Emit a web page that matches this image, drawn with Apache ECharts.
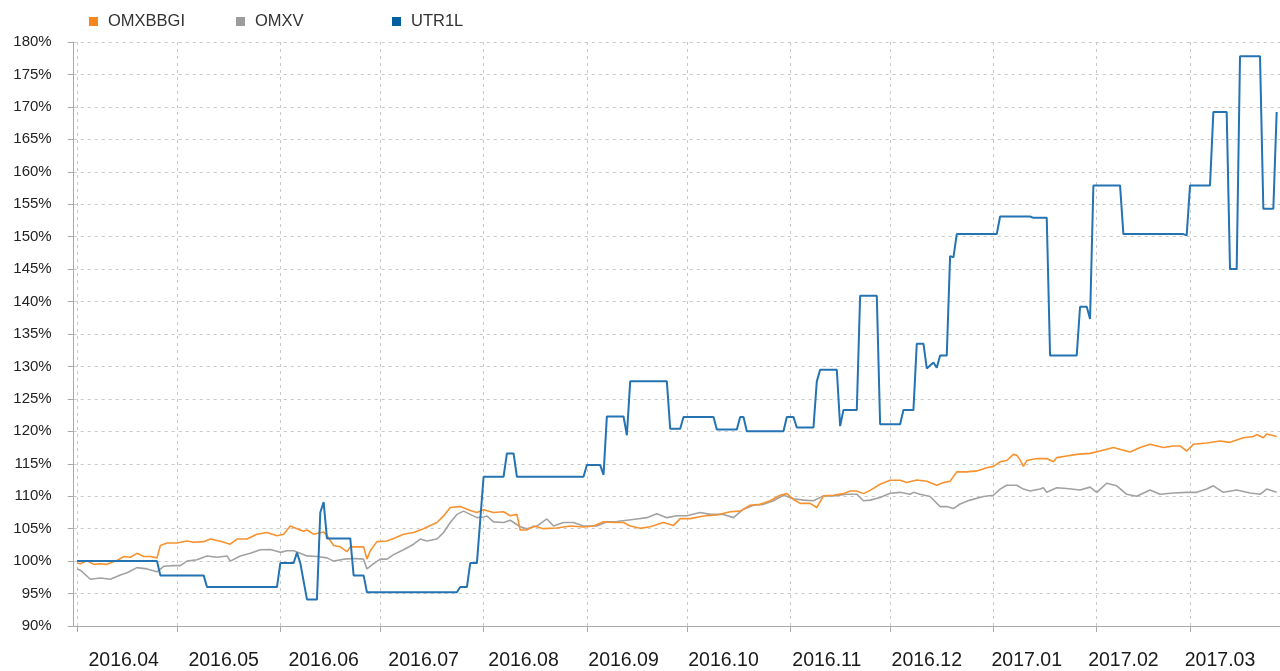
<!DOCTYPE html>
<html>
<head>
<meta charset="utf-8">
<script src="https://cdn.jsdelivr.net/npm/echarts@6/dist/echarts.min.js"></script>
<style>
  html, body { margin: 0; padding: 0; background: #fff; }
  #chart { width: 1280px; height: 671px; }
</style>
</head>
<body>
<div id="chart"></div>
<script>
// days counted from 2016-04-01
const omxbbgiDays = [0,1,3,5,7,9,12,14,16,18,20,22,24,25,27,30,33,35,38,40,43,46,48,51,54,57,60,62,64,66,68,69,71,74,75,77,79,81,82,86,87,88,90,93,95,98,101,104,106,108,110,112,115,118,120,122,125,128,130,132,133,135,137,140,144,148,152,155,158,161,164,166,169,172,176,179,181,184,188,192,196,199,202,205,208,211,213,215,217,220,222,224,227,230,232,234,236,238,241,244,247,249,252,255,258,260,262,264,267,270,273,275,277,279,281,282,283,284,285,288,291,293,294,297,300,304,307,311,314,316,319,322,326,329,331,333,335,339,343,346,350,353,354,356,357,360];
const omxbbgiVals = [99.7,99.6,100.05,99.5,99.6,99.5,100.1,100.7,100.6,101.2,100.7,100.7,100.5,102.4,102.8,102.8,103.1,102.9,103.0,103.4,103.05,102.6,103.4,103.4,104.15,104.4,103.9,104.15,105.4,105.0,104.6,104.8,104.15,104.5,103.9,102.4,102.2,101.45,102.2,102.2,100.3,101.6,103.0,103.1,103.5,104.15,104.4,105.0,105.5,105.95,106.97,108.26,108.4,107.8,107.5,107.9,107.5,107.6,107.0,107.2,104.8,104.8,105.4,105.0,105.1,105.4,105.25,105.4,106.05,105.95,105.95,105.4,105.05,105.3,105.95,105.5,106.55,106.55,106.95,107.1,107.6,107.7,108.6,108.75,109.3,110.15,110.4,109.5,108.9,108.9,108.26,110.05,110.15,110.4,110.8,110.8,110.4,110.9,111.85,112.45,112.45,112.1,112.5,112.3,111.7,112.1,112.3,113.75,113.75,113.9,114.4,114.6,115.3,115.5,116.45,116.3,115.6,114.6,115.5,115.8,115.8,115.3,115.95,116.2,116.45,116.6,116.97,117.5,117.1,116.8,117.5,118.0,117.5,117.75,117.75,116.97,118.0,118.2,118.5,118.3,119.0,119.2,119.5,119.0,119.6,119.2];

const omxvDays = [0,1,4,7,10,13,15,18,21,24,26,29,31,33,36,39,42,45,46,49,52,55,58,61,63,65,67,69,72,75,77,80,83,86,87,89,91,93,95,98,101,103,105,108,110,112,114,116,118,120,122,123,125,128,130,133,135,138,141,143,146,149,152,156,159,162,165,168,171,174,177,180,183,187,190,194,197,200,203,206,209,212,215,218,221,224,227,231,234,236,238,241,244,247,250,251,253,256,259,261,263,265,268,272,275,277,279,282,284,286,289,290,291,294,297,301,304,306,309,312,315,318,322,325,329,333,336,339,341,344,348,352,355,357,360];
const omxvVals = [98.8,98.6,97.2,97.4,97.2,97.85,98.2,99.0,98.8,98.35,99.2,99.3,99.3,100.0,100.2,100.8,100.6,100.8,100.0,100.8,101.2,101.75,101.8,101.35,101.6,101.6,101.2,100.8,100.7,100.5,100.0,100.3,100.4,100.3,98.8,99.6,100.3,100.3,101.0,101.75,102.6,103.4,103.1,103.4,104.4,105.95,107.2,107.7,107.2,106.7,106.8,106.95,106.05,105.95,106.3,105.3,105.0,105.4,106.5,105.4,105.95,105.95,105.4,105.4,106.05,106.1,106.3,106.5,106.7,107.3,106.7,107.0,107.0,107.5,107.2,107.2,106.7,108.0,108.6,108.75,109.3,110.15,109.6,109.4,109.3,110.05,110.05,110.3,110.3,109.3,109.4,109.8,110.45,110.6,110.3,110.6,110.3,109.95,108.4,108.4,108.1,108.8,109.4,109.95,110.15,111.1,111.7,111.7,111.1,110.8,111.1,111.3,110.6,111.3,111.2,110.95,111.4,110.6,112.0,111.6,110.3,110.0,110.95,110.3,110.5,110.6,110.6,111.1,111.6,110.6,110.95,110.5,110.3,111.1,110.6];

const utr1lDays = [0,24,25,38,39,60,61,65,66,67,69,72,73,74,75,82,83,86,87,114,115,117,118,120,122,128,129,131,132,152,153,157,158,159,164,165,166,177,178,181,182,191,192,198,199,200,201,212,213,215,216,221,222,223,228,229,230,234,235,240,241,247,248,251,252,254,255,257,258,259,261,262,263,264,276,277,286,287,291,292,300,301,303,304,305,313,314,332,333,334,340,341,345,346,348,349,355,356,359,360];
const utr1lVals = [100,100,97.8,97.8,96.0,96.0,99.7,99.7,101.3,99.7,94.1,94.1,107.5,109.1,103.5,103.5,97.8,97.8,95.2,95.2,96.0,96.0,99.7,99.7,113.0,113.0,116.6,116.6,113.0,113.0,114.8,114.8,113.3,122.3,122.3,119.4,127.7,127.7,120.4,120.4,122.2,122.2,120.3,120.3,122.2,122.2,120.0,120.0,122.2,122.2,120.6,120.6,127.7,129.5,129.5,120.8,123.3,123.3,140.9,140.9,121.1,121.1,123.3,123.3,133.5,133.5,129.7,130.6,129.8,131.7,131.7,147.0,146.8,150.4,150.4,153.1,153.1,152.9,152.9,131.7,131.7,139.2,139.2,137.3,157.9,157.9,150.4,150.4,150.2,157.9,157.9,169.2,169.2,145.0,145.0,177.8,177.8,154.3,154.3,169.2];

const monthTicks = ['2016-04-01','2016-05-01','2016-06-01','2016-07-01','2016-08-01','2016-09-01','2016-10-01','2016-11-01','2016-12-01','2017-01-01','2017-02-01','2017-03-01'];
const labelDates = ['2016-04-15','2016-05-15','2016-06-14','2016-07-14','2016-08-13','2016-09-12','2016-10-12','2016-11-12','2016-12-12','2017-01-11','2017-02-09','2017-03-10'];

// x axis is measured in days from 2016-03-31
const DAY = 86400000;
const base = Date.UTC(2016, 2, 31);
function toDay(s) {
    const p = s.split('-');
    return Math.round((Date.UTC(+p[0], +p[1] - 1, +p[2]) - base) / DAY);
}
function dayLabel(v) {
    const d = new Date(base + Math.round(v) * DAY);
    const m = d.getUTCMonth() + 1;
    return d.getUTCFullYear() + '.' + (m < 10 ? '0' + m : m);
}
function pairs(days, vals) {
    return days.map((d, i) => [d + 1, vals[i]]);
}

const chart = echarts.init(document.getElementById('chart'));

const legendBase = {
    top: 8,
    icon: 'rect',
    itemWidth: 9,
    itemHeight: 9,
    textStyle: {fontFamily: 'Liberation Sans, Arial', fontSize: 16.5, color: '#333', padding: [0, 0, 0, 5]}
};

chart.setOption({
    animation: false,
    backgroundColor: '#fff',
    legend: [
        Object.assign({left: 84, data: [{name: 'OMXBBGI', itemStyle: {color: '#f7861f'}}]}, legendBase),
        Object.assign({left: 231, data: [{name: 'OMXV', itemStyle: {color: '#9c9c9c'}}]}, legendBase),
        Object.assign({left: 387, data: [{name: 'UTR1L', itemStyle: {color: '#005f9e'}}]}, legendBase)
    ],
    grid: {left: 73.7, right: 0, top: 42, bottom: 44},
    xAxis: {
        type: 'value',
        min: 0,
        max: 362,
        axisLine: {show: true, lineStyle: {color: '#aaa', width: 1}},
        axisTick: {show: true, length: 6, lineStyle: {color: '#aaa'}, customValues: monthTicks.map(toDay)},
        axisLabel: {
            customValues: labelDates.map(toDay),
            formatter: dayLabel,
            fontFamily: 'Liberation Sans, Arial',
            fontSize: 19.5,
            color: '#1a1a1a',
            margin: 25,
            hideOverlap: false
        },
        splitLine: {show: true, lineStyle: {color: '#c8c8c8', type: [3, 4], width: 1}}
    },
    yAxis: {
        type: 'value',
        min: 90,
        max: 180,
        interval: 5,
        axisLine: {show: true, lineStyle: {color: '#aaa', width: 1}},
        axisTick: {show: true, length: 6, lineStyle: {color: '#aaa'}},
        axisLabel: {
            formatter: '{value}%',
            fontFamily: 'Liberation Sans, Arial',
            fontSize: 15,
            color: '#222',
            margin: 22
        },
        splitLine: {show: true, lineStyle: {color: '#c8c8c8', type: [3, 4], width: 1}}
    },
    series: [
        {
            name: 'OMXBBGI', type: 'line', showSymbol: false, symbol: 'none',
            data: pairs(omxbbgiDays, omxbbgiVals),
            lineStyle: {color: '#f7922f', width: 1.6},
            itemStyle: {color: '#f7861f'}, z: 3
        },
        {
            name: 'OMXV', type: 'line', showSymbol: false, symbol: 'none',
            data: pairs(omxvDays, omxvVals),
            lineStyle: {color: '#a2a2a2', width: 1.6},
            itemStyle: {color: '#9c9c9c'}, z: 2
        },
        {
            name: 'UTR1L', type: 'line', showSymbol: false, symbol: 'none',
            data: pairs(utr1lDays, utr1lVals),
            lineStyle: {color: '#2473b2', width: 2},
            itemStyle: {color: '#005f9e'}, z: 4
        }
    ]
});
</script>
</body>
</html>
